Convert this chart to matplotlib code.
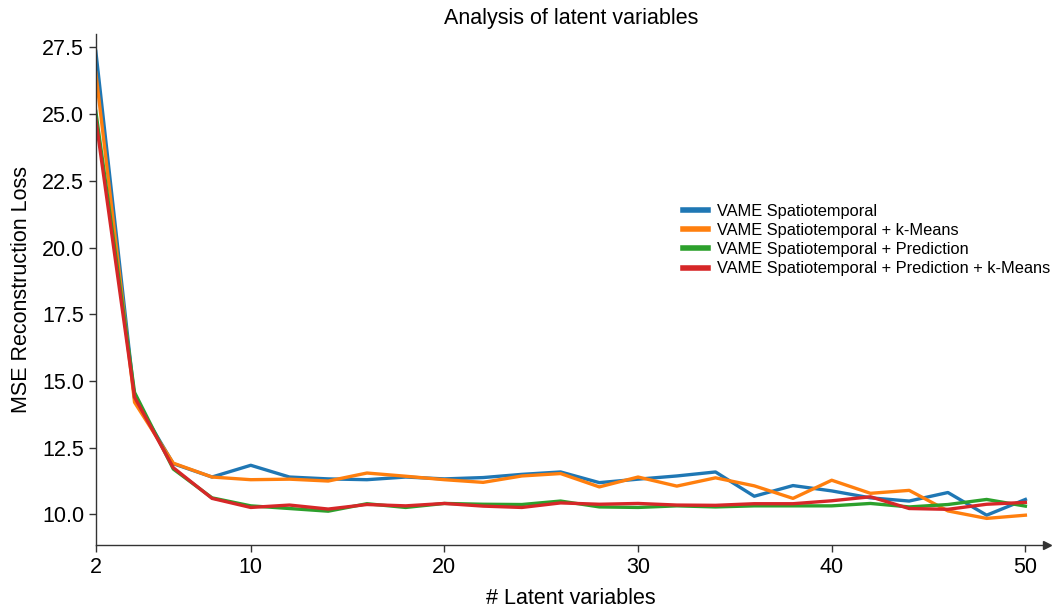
import matplotlib.pyplot as plt

plt.rcParams["font.family"] = ["Liberation Sans", "DejaVu Sans"]

# number of latent variables
latent_dims = [2, 4, 6, 8, 10, 12, 14, 16, 18, 20, 22, 24, 26,
               28, 30, 32, 34, 36, 38, 40, 42, 44, 46, 48, 50]

# MSE reconstruction loss per model variant
spatiotemporal = [27.35, 14.35, 11.9, 11.4, 11.84, 11.4, 11.33, 11.3, 11.4, 11.33,
                  11.38, 11.5, 11.59, 11.19, 11.32, 11.44, 11.59, 10.68, 11.08,
                  10.88, 10.62, 10.5, 10.82, 9.97, 10.56]
spatiotemporal_kmeans = [26.55, 14.2, 11.92, 11.4, 11.3, 11.32, 11.25, 11.55, 11.43,
                         11.3, 11.2, 11.44, 11.53, 11.03, 11.4, 11.06, 11.37, 11.07,
                         10.6, 11.28, 10.79, 10.9, 10.13, 9.85, 9.97]
spatiotemporal_pred = [25.1, 14.57, 11.7, 10.62, 10.32, 10.22, 10.12, 10.4, 10.26,
                       10.41, 10.38, 10.37, 10.5, 10.28, 10.26, 10.32, 10.28, 10.32,
                       10.32, 10.32, 10.41, 10.28, 10.37, 10.56, 10.31]
spatiotemporal_pred_kmeans = [24.8, 14.39, 11.75, 10.6, 10.26, 10.35, 10.2, 10.37,
                              10.32, 10.41, 10.31, 10.26, 10.43, 10.38, 10.41, 10.35,
                              10.34, 10.4, 10.4, 10.51, 10.66, 10.22, 10.19, 10.38,
                              10.45]

labels = [
    "VAME Spatiotemporal",
    "VAME Spatiotemporal + k-Means",
    "VAME Spatiotemporal + Prediction",
    "VAME Spatiotemporal + Prediction + k-Means",
]
colors = ["#1f77b4", "#ff7f0e", "#2ca02c", "#d62728"]
series = [spatiotemporal, spatiotemporal_kmeans, spatiotemporal_pred, spatiotemporal_pred_kmeans]

fig = plt.figure(figsize=(10.53, 6.07), dpi=100)
ax = fig.add_axes([0.091, 0.102, 0.903, 0.842])

for values, label, color in zip(series, labels, colors):
    ax.plot(latent_dims, values, color=color, lw=2.4, label=label)

ax.set_xlim(2, 51.1)
ax.set_ylim(8.85, 28)
ax.set_xticks([2, 10, 20, 30, 40, 50])
ax.set_yticks([10.0, 12.5, 15.0, 17.5, 20.0, 22.5, 25.0, 27.5])
ax.tick_params(labelsize=15.5, length=5, width=1, colors="#333333", labelcolor="black")

for side in ["top", "right"]:
    ax.spines[side].set_visible(False)
for side in ["left", "bottom"]:
    ax.spines[side].set_color("#333333")
    ax.spines[side].set_linewidth(1)

# arrow head at the end of the x axis
ax.plot(1, 0, ">", color="#333333", ms=6, transform=ax.transAxes, clip_on=False)

ax.set_title("Analysis of latent variables", fontsize=15.5, pad=7)
ax.set_xlabel("# Latent variables", fontsize=15.5, labelpad=7)
ax.set_ylabel("MSE Reconstruction Loss", fontsize=15.5, labelpad=7)

leg = ax.legend(loc="upper left", bbox_to_anchor=(683 / 1053, 1 - 204 / 607),
                bbox_transform=fig.transFigure, frameon=False, fontsize=11.8,
                handlelength=1.5, handletextpad=0.6, labelspacing=0.25,
                borderpad=0, borderaxespad=0)
for line in leg.get_lines():
    line.set_linewidth(4)

fig.savefig("out.png", dpi=100)
